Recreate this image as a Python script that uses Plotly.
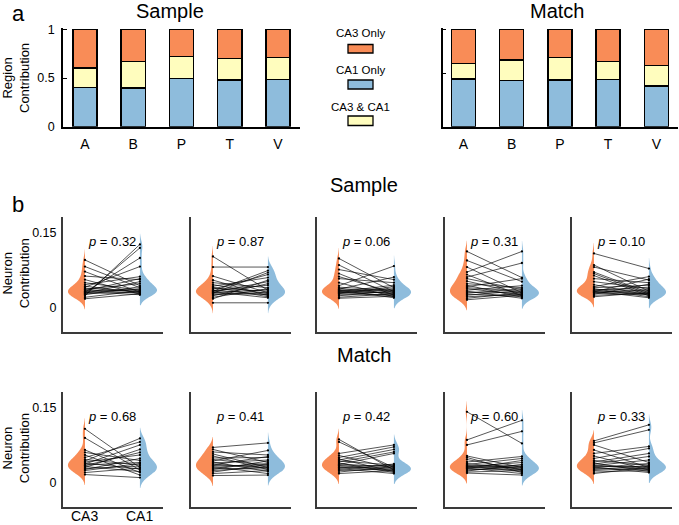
import plotly.graph_objects as go

W, H = 679, 525
FONT = "Arial, Liberation Sans, sans-serif"
ORANGE = "#F98C57"
BLUE = "#8EBCDC"
YELLOW = "#FFFDBE"

# ---------------- panel a data ----------------
categories = ["A", "B", "P", "T", "V"]
sample_ca1_only = [0.405, 0.398, 0.493, 0.480, 0.487]
sample_both = [0.196, 0.272, 0.230, 0.220, 0.222]
sample_ca3_only = [0.399, 0.330, 0.277, 0.300, 0.291]
match_ca1_only = [0.488, 0.476, 0.480, 0.483, 0.418]
match_both = [0.161, 0.209, 0.229, 0.185, 0.212]
match_ca3_only = [0.351, 0.315, 0.291, 0.332, 0.370]
legend_labels = ["CA3 Only", "CA1 Only", "CA3 & CA1"]

# ---------------- panel b data ----------------
panel_names = ["Animal", "Building", "Plant", "Tool", "Vehicle"]
row_names = ["Sample", "Match"]
region_labels = ["CA3", "CA1"]
region_pos = [1, 2]
p_sample = ["0.32", "0.87", "0.06", "0.31", "0.10"]
p_match = ["0.68", "0.41", "0.42", "0.60", "0.33"]

s_animal_ca3 = [0.095, 0.082, 0.072, 0.063, 0.056, 0.050, 0.046, 0.043, 0.041, 0.039, 0.037, 0.036,
                0.034, 0.033, 0.032, 0.031, 0.030, 0.029, 0.028, 0.027, 0.026, 0.024, 0.021, 0.018]
s_animal_ca1 = [0.044, 0.040, 0.031, 0.056, 0.027, 0.035, 0.062, 0.030, 0.082, 0.033, 0.048, 0.029,
                0.058, 0.036, 0.026, 0.099, 0.038, 0.052, 0.032, 0.119, 0.042, 0.126, 0.034, 0.028]
s_building_ca3 = [0.102, 0.081, 0.063, 0.055, 0.050, 0.046, 0.043, 0.041, 0.039, 0.037, 0.035, 0.034,
                  0.033, 0.032, 0.031, 0.030, 0.029, 0.028, 0.026, 0.024, 0.021, 0.018, 0.010]
s_building_ca1 = [0.035, 0.081, 0.030, 0.024, 0.040, 0.028, 0.060, 0.022, 0.033, 0.066, 0.026, 0.045,
                  0.074, 0.020, 0.052, 0.036, 0.070, 0.027, 0.031, 0.048, 0.038, 0.055, 0.010]
s_plant_ca3 = [0.098, 0.085, 0.076, 0.068, 0.062, 0.058, 0.050, 0.044, 0.041, 0.039, 0.037, 0.036,
               0.035, 0.034, 0.033, 0.032, 0.031, 0.030, 0.029, 0.028, 0.026, 0.024, 0.021, 0.019]
s_plant_ca1 = [0.040, 0.032, 0.056, 0.025, 0.030, 0.050, 0.022, 0.083, 0.035, 0.027, 0.061, 0.033,
               0.020, 0.038, 0.029, 0.045, 0.024, 0.036, 0.031, 0.042, 0.026, 0.034, 0.028, 0.023]
s_tool_ca3 = [0.112, 0.094, 0.081, 0.071, 0.066, 0.061, 0.058, 0.053, 0.048, 0.045, 0.042, 0.040,
              0.038, 0.035, 0.033, 0.031, 0.029, 0.027, 0.025, 0.022, 0.019, 0.016]
s_tool_ca1 = [0.060, 0.052, 0.030, 0.112, 0.024, 0.089, 0.036, 0.028, 0.040, 0.021, 0.058, 0.033,
              0.026, 0.044, 0.019, 0.031, 0.038, 0.023, 0.034, 0.027, 0.030, 0.025]
s_vehicle_ca3 = [0.108, 0.085, 0.081, 0.071, 0.068, 0.064, 0.058, 0.052, 0.046, 0.042, 0.040, 0.038,
                 0.036, 0.035, 0.034, 0.033, 0.032, 0.031, 0.030, 0.029, 0.027, 0.025, 0.022]
s_vehicle_ca1 = [0.078, 0.033, 0.055, 0.030, 0.027, 0.024, 0.050, 0.038, 0.025, 0.062, 0.045, 0.022,
                 0.035, 0.041, 0.028, 0.020, 0.057, 0.032, 0.036, 0.026, 0.047, 0.029, 0.031]

m_animal_ca3 = [0.107, 0.089, 0.065, 0.060, 0.055, 0.050, 0.046, 0.043, 0.041, 0.039, 0.037, 0.035,
                0.034, 0.032, 0.030, 0.028, 0.026, 0.024, 0.020, 0.016]
m_animal_ca1 = [0.030, 0.025, 0.020, 0.044, 0.015, 0.081, 0.035, 0.088, 0.055, 0.027, 0.075, 0.040,
                0.060, 0.022, 0.066, 0.033, 0.048, 0.038, 0.029, 0.010]
m_building_ca3 = [0.070, 0.066, 0.061, 0.057, 0.053, 0.049, 0.046, 0.043, 0.041, 0.039, 0.037, 0.035,
                  0.034, 0.032, 0.030, 0.028, 0.026, 0.024, 0.021, 0.018, 0.014]
m_building_ca1 = [0.079, 0.040, 0.055, 0.030, 0.026, 0.050, 0.035, 0.064, 0.022, 0.045, 0.029, 0.052,
                  0.033, 0.018, 0.038, 0.027, 0.043, 0.031, 0.036, 0.024, 0.015]
m_plant_ca3 = [0.086, 0.081, 0.058, 0.054, 0.050, 0.047, 0.045, 0.043, 0.041, 0.039, 0.037, 0.036,
               0.034, 0.033, 0.031, 0.030, 0.028, 0.026, 0.024, 0.021, 0.018]
m_plant_ca1 = [0.025, 0.030, 0.075, 0.028, 0.071, 0.022, 0.066, 0.035, 0.061, 0.020, 0.031, 0.058,
               0.026, 0.034, 0.023, 0.029, 0.018, 0.037, 0.027, 0.032, 0.024]
m_tool_ca3 = [0.141, 0.085, 0.075, 0.053, 0.050, 0.046, 0.041, 0.038, 0.036, 0.034, 0.033, 0.032,
              0.031, 0.030, 0.029, 0.028, 0.027, 0.025, 0.023, 0.021, 0.019]
m_tool_ca1 = [0.078, 0.124, 0.102, 0.030, 0.020, 0.025, 0.052, 0.027, 0.048, 0.032, 0.022, 0.040,
              0.029, 0.035, 0.018, 0.044, 0.026, 0.031, 0.036, 0.024, 0.015]
m_vehicle_ca3 = [0.083, 0.079, 0.075, 0.065, 0.058, 0.053, 0.048, 0.044, 0.041, 0.039, 0.037, 0.035,
                 0.034, 0.032, 0.031, 0.030, 0.028, 0.026, 0.024, 0.021, 0.018]
m_vehicle_ca1 = [0.115, 0.105, 0.040, 0.030, 0.072, 0.025, 0.068, 0.035, 0.058, 0.022, 0.052, 0.028,
                 0.045, 0.032, 0.020, 0.038, 0.026, 0.034, 0.029, 0.024, 0.031]

sample_pairs = [(s_animal_ca3, s_animal_ca1), (s_building_ca3, s_building_ca1),
                (s_plant_ca3, s_plant_ca1), (s_tool_ca3, s_tool_ca1),
                (s_vehicle_ca3, s_vehicle_ca1)]
match_pairs = [(m_animal_ca3, m_animal_ca1), (m_building_ca3, m_building_ca1),
               (m_plant_ca3, m_plant_ca1), (m_tool_ca3, m_tool_ca1),
               (m_vehicle_ca3, m_vehicle_ca1)]


def px_x(v):
    return v / W


def px_y(v):
    return 1 - v / H


fig = go.Figure()
layout = dict(
    width=W, height=H, margin=dict(l=0, r=0, t=0, b=0, autoexpand=False),
    paper_bgcolor="white", plot_bgcolor="white",
    font=dict(family=FONT, color="black", size=12),
    showlegend=False, barmode="stack", violinmode="overlay",
)

# ---------------- panel a: stacked bars ----------------
bar_sets = [
    (sample_ca1_only, sample_both, sample_ca3_only, 63, 300, [-0.456, 4.456], True),
    (match_ca1_only, match_both, match_ca3_only, 442.7, 678, [-0.43, 4.45], False),
]
for k, (b1, b2, b3, xl, xr_, xrange_, labels) in enumerate(bar_sets):
    ax = "" if k == 0 else str(k + 1)
    for vals, col in [(b1, BLUE), (b2, YELLOW), (b3, ORANGE)]:
        fig.add_trace(go.Bar(x=categories, y=vals, width=0.5,
                             marker=dict(color=col, line=dict(color="black", width=1.4)),
                             xaxis="x" + ax, yaxis="y" + ax, hoverinfo="skip"))
    top_px = 126.7 - 1.012 * 97.4
    layout["xaxis" + ax] = dict(domain=[px_x(xl), px_x(xr_)], range=xrange_, anchor="y" + ax,
                                showline=True, linecolor="black", linewidth=1.5,
                                showgrid=False, zeroline=False, ticks="", automargin=False,
                                tickfont=dict(size=14), ticklabelstandoff=4,
                                categoryorder="array", categoryarray=categories)
    layout["yaxis" + ax] = dict(domain=[px_y(126.7), px_y(top_px)], range=[0, 1.012],
                                anchor="x" + ax, showline=True, linecolor="black",
                                linewidth=1.5, showgrid=False, zeroline=False, automargin=False,
                                ticks="inside", ticklen=4, tickwidth=1.3, tickcolor="black",
                                tickvals=[0, 0.5, 1] if labels else [0, 0.55, 1],
                                ticktext=["0", "0.5", "1"] if labels else ["", "", ""],
                                tickfont=dict(size=12.5), ticklabelstandoff=4)

annotations = []
shapes = []
annotations.append(dict(text="a", x=px_x(18), y=px_y(13), xref="paper", yref="paper",
                        showarrow=False, font=dict(size=22), xanchor="center", yanchor="middle"))
annotations.append(dict(text="Sample", x=px_x(170), y=px_y(11), xref="paper", yref="paper",
                        showarrow=False, font=dict(size=20), xanchor="center", yanchor="middle"))
annotations.append(dict(text="Match", x=px_x(557), y=px_y(11), xref="paper", yref="paper",
                        showarrow=False, font=dict(size=20), xanchor="center", yanchor="middle"))
annotations.append(dict(text="Region<br>Contribution", x=px_x(16), y=px_y(78), xref="paper",
                        yref="paper", showarrow=False, textangle=-90, font=dict(size=13),
                        xanchor="center", yanchor="middle"))

# legend
leg_cols = [ORANGE, BLUE, YELLOW]
leg_text_y = [33, 70, 107]
leg_box_y = [(44.5, 53), (80, 89), (116, 125.5)]
for lab, col, ty, (y0, y1) in zip(legend_labels, leg_cols, leg_text_y, leg_box_y):
    annotations.append(dict(text=lab, x=px_x(360), y=px_y(ty), xref="paper", yref="paper",
                            showarrow=False, font=dict(size=11.5), xanchor="center",
                            yanchor="middle"))
    shapes.append(dict(type="rect", xref="paper", yref="paper", x0=px_x(348), x1=px_x(373),
                       y0=px_y(y1), y1=px_y(y0), fillcolor=col,
                       line=dict(color="black", width=1.3)))

# ---------------- panel b: violins ----------------
annotations.append(dict(text="b", x=px_x(18), y=px_y(205), xref="paper", yref="paper",
                        showarrow=False, font=dict(size=22), xanchor="center", yanchor="middle"))
row_geo = [(216.7, 332.0), (391.7, 506.7)]
header_y = [185, 355]
panel_x0 = [63, 191, 317, 445, 572]
PW = 100
yr = [-0.048, 0.181]
xr = [0.6, 2.42]
for r in range(2):
    pairs = sample_pairs if r == 0 else match_pairs
    pvals = p_sample if r == 0 else p_match
    ytop, ybot = row_geo[r]
    annotations.append(dict(text=row_names[r], x=px_x(364), y=px_y(header_y[r]), xref="paper",
                            yref="paper", showarrow=False, font=dict(size=20),
                            xanchor="center", yanchor="middle"))
    annotations.append(dict(text="Neuron<br>Contribution", x=px_x(16),
                            y=px_y((ytop + ybot) / 2 - 1), xref="paper", yref="paper",
                            showarrow=False, textangle=-90, font=dict(size=13),
                            xanchor="center", yanchor="middle"))
    for c in range(5):
        n = 3 + r * 5 + c
        xa, ya = f"x{n}", f"y{n}"
        ca3, ca1 = pairs[c]
        fig.add_trace(go.Violin(x0=region_pos[0], y=ca3, side="negative", width=0.62,
                                fillcolor=ORANGE, line=dict(width=0), points=False, opacity=1,
                                bandwidth=0.0105, spanmode="soft", xaxis=xa, yaxis=ya,
                                hoverinfo="skip"))
        fig.add_trace(go.Violin(x0=region_pos[1], y=ca1, side="positive", width=0.62,
                                fillcolor=BLUE, line=dict(width=0), points=False, opacity=1,
                                bandwidth=0.0105, spanmode="soft", xaxis=xa, yaxis=ya,
                                hoverinfo="skip"))
        lx, ly = [], []
        for a, b in zip(ca3, ca1):
            lx += [region_pos[0], region_pos[1], None]
            ly += [a, b, None]
        fig.add_trace(go.Scatter(x=lx, y=ly, mode="lines+markers",
                                 line=dict(color="rgba(0,0,0,0.88)", width=0.75),
                                 marker=dict(size=2.3, color="black"),
                                 xaxis=xa, yaxis=ya, hoverinfo="skip"))
        first_col = c == 0
        x0 = panel_x0[c]
        layout[f"xaxis{n}"] = dict(domain=[px_x(x0), px_x(x0 + PW)], range=xr, type="linear",
                                   anchor=ya, showline=True, linecolor="#3a3a3a", linewidth=2,
                                   showgrid=False, zeroline=False, ticks="", automargin=False,
                                   showticklabels=False)
        layout[f"yaxis{n}"] = dict(domain=[px_y(ybot), px_y(ytop)], range=yr, anchor=xa,
                                   showline=True, linecolor="#3a3a3a", linewidth=2,
                                   showgrid=False, zeroline=False, ticks="", automargin=False,
                                   tickvals=[0, 0.15] if first_col else [],
                                   ticktext=["0", "0.15"] if first_col else [],
                                   showticklabels=first_col, tickfont=dict(size=12.5),
                                   ticklabelstandoff=2)
        annotations.append(dict(text=panel_names[c], x=1.43, y=yr[1] + 0.001, xref=xa,
                                yref=ya, showarrow=False, font=dict(size=14.5),
                                xanchor="center", yanchor="middle"))
        annotations.append(dict(text=f"<i>p</i> = {pvals[c]}", x=1.5, y=0.131, xref=xa,
                                yref=ya, showarrow=False, font=dict(size=13),
                                xanchor="center", yanchor="middle"))
        if r == 1 and c == 0:
            for pos, lab in zip(region_pos, region_labels):
                annotations.append(dict(text=lab, x=pos, y=0, xref=xa, yref="paper",
                                        yanchor="bottom", xanchor="center", showarrow=False,
                                        font=dict(size=14), yshift=-1))

layout["annotations"] = annotations
layout["shapes"] = shapes
fig.update_layout(**layout)
fig.write_html("out.html", config={"displayModeBar": False},
               post_script="document.body.style.margin='0';document.body.style.overflow='hidden';")
